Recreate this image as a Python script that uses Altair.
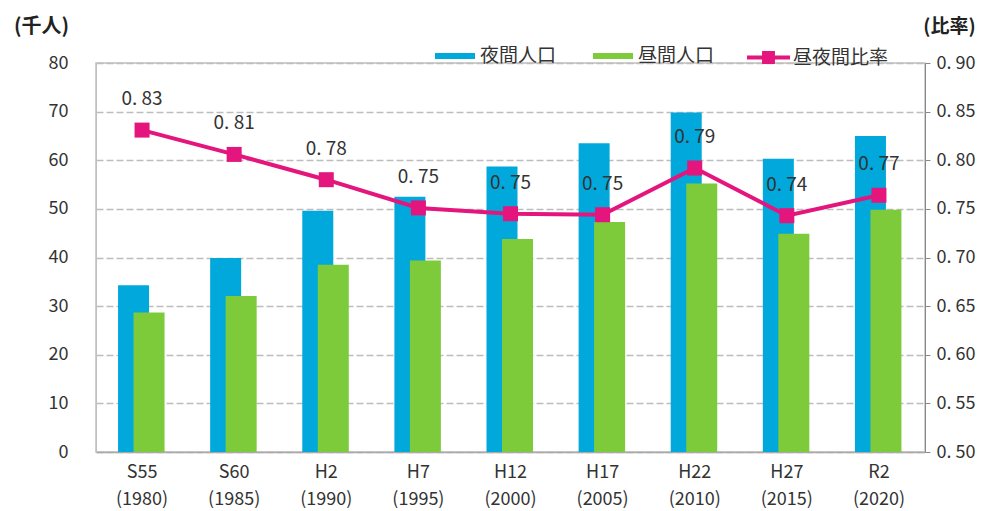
import altair as alt
import pandas as pd

eras = ["S55", "S60", "H2", "H7", "H12", "H17", "H22", "H27", "R2"]
years = ["(1980)", "(1985)", "(1990)", "(1995)", "(2000)", "(2005)", "(2010)", "(2015)", "(2020)"]
night_pop = [34.3, 39.9, 49.6, 52.5, 58.7, 63.5, 69.8, 60.3, 65.0]
day_pop = [28.7, 32.1, 38.5, 39.4, 43.8, 47.3, 55.2, 44.9, 49.8]
ratio = [0.831, 0.806, 0.780, 0.751, 0.745, 0.744, 0.792, 0.743, 0.764]
ratio_labels = ["0. 83", "0. 81", "0. 78", "0. 75", "0. 75", "0. 75", "0. 79", "0. 74", "0. 77"]

series_names = ["夜間人口", "昼間人口"]
line_name = "昼夜間比率"
BLUE = "#00A8DC"
GREEN = "#7DCB3B"
PINK = "#E4157D"
FONT = "Noto Sans CJK JP"

cats = [f"{e}|{y}" for e, y in zip(eras, years)]
df = pd.DataFrame({
    "cat": cats,
    "night": night_pop,
    "day": day_pop,
    "ratio": ratio,
    "label": ratio_labels,
    "s_night": series_names[0],
    "s_day": series_names[1],
    "s_line": line_name,
})

base = alt.Chart(df)

x_enc = alt.X(
    "cat:N",
    sort=cats,
    scale=alt.Scale(paddingInner=0, paddingOuter=0),
    axis=alt.Axis(
        title=None,
        labelExpr="split(datum.label, '|')",
        labelAngle=0,
        labelFontSize=18,
        labelLineHeight=27,
        labelPadding=11,
        labelColor="#333333",
        labelFont=FONT,
        ticks=False,
        domainColor="#aaaaaa",
        domainWidth=1.5,
        grid=False,
    ),
)

fill_scale = alt.Scale(domain=series_names, range=[BLUE, GREEN])
bar_legend = alt.Legend(
    title=None,
    orient="none",
    legendX=339,
    legendY=-27,
    direction="horizontal",
    symbolType="M-1,-0.15H1V0.15H-1Z",
    symbolSize=1600,
    symbolStrokeWidth=0,
    labelFontSize=19,
    labelFont=FONT,
    labelColor="#333333",
    labelOffset=5,
    columnPadding=36,
)

y_left = alt.Y(
    "night:Q",
    scale=alt.Scale(domain=[0, 80]),
    axis=alt.Axis(
        title="(千人)",
        titleAngle=0,
        titleX=-55,
        titleY=-37,
        titleAlign="center",
        titleBaseline="middle",
        titleFontSize=20,
        titleFont=FONT,
        titleFontWeight="bold",
        titleColor="#222222",
        values=[0, 10, 20, 30, 40, 50, 60, 70, 80],
        labelFontSize=18,
        labelFont=FONT,
        labelColor="#333333",
        labelPadding=28,
        ticks=False,
        domainColor="#c0c0c0",
        grid=True,
        gridColor="#bdbdbd",
        gridDash=[7, 3],
        gridWidth=1.3,
    ),
)

night_bars = base.mark_bar(width=31, xOffset=-8.5).encode(
    x=x_enc,
    y=y_left,
    fill=alt.Fill("s_night:N", scale=fill_scale, legend=bar_legend),
)
day_bars = base.mark_bar(width=31, xOffset=7).encode(
    x=x_enc,
    y=alt.Y("day:Q"),
    fill=alt.Fill("s_day:N", scale=fill_scale, legend=bar_legend),
)
bars = alt.layer(night_bars, day_bars)

y_right = alt.Y(
    "ratio:Q",
    scale=alt.Scale(domain=[0.5, 0.9]),
    axis=alt.Axis(
        title="(比率)",
        orient="right",
        titleAngle=0,
        titleX=24,
        titleY=-37,
        titleAlign="center",
        titleBaseline="middle",
        titleFontSize=19,
        titleFont=FONT,
        titleFontWeight="bold",
        titleColor="#222222",
        values=[0.5, 0.55, 0.6, 0.65, 0.7, 0.75, 0.8, 0.85, 0.9],
        labelExpr="replace(format(datum.value, '.2f'), '.', '. ')",
        labelFontSize=18,
        labelFont=FONT,
        labelColor="#333333",
        labelPadding=6,
        tickSize=5,
        tickColor="#888888",
        domainColor="#888888",
        grid=False,
    ),
)

line = base.mark_line(strokeWidth=4).encode(
    x=x_enc,
    y=y_right,
    stroke=alt.Stroke(
        "s_line:N",
        scale=alt.Scale(domain=[line_name], range=[PINK]),
        legend=alt.Legend(
            title=None,
            orient="none",
            legendX=651,
            legendY=-27,
            direction="horizontal",
            symbolType="M-1,-0.09H-0.3V-0.3H0.3V-0.09H1V0.09H0.3V0.3H-0.3V0.09H-1Z",
            symbolSize=1849,
            symbolFillColor=PINK,
            symbolStrokeWidth=0,
            labelFontSize=19,
            labelFont=FONT,
            labelColor="#333333",
            labelOffset=3,
        ),
    ),
)
markers = base.mark_square(size=225, color=PINK, opacity=1).encode(x=x_enc, y=alt.Y("ratio:Q"))
texts = base.mark_text(dy=-31, fontSize=19, font=FONT, color="#333333").encode(
    x=x_enc, y=alt.Y("ratio:Q"), text="label:N"
)
ratio_layer = alt.layer(line, markers, texts)

chart = (
    alt.layer(bars, ratio_layer)
    .resolve_scale(y="independent")
    .properties(
        width=829,
        height=389,
        autosize=alt.AutoSizeParams(type="none"),
        padding={"left": 88, "top": 55, "right": 53, "bottom": 56},
        background="white",
    )
    .configure_view(stroke="#c0c0c0", strokeWidth=1.5)
)

chart.save("out.html", embed_options={"renderer": "svg", "actions": False})
